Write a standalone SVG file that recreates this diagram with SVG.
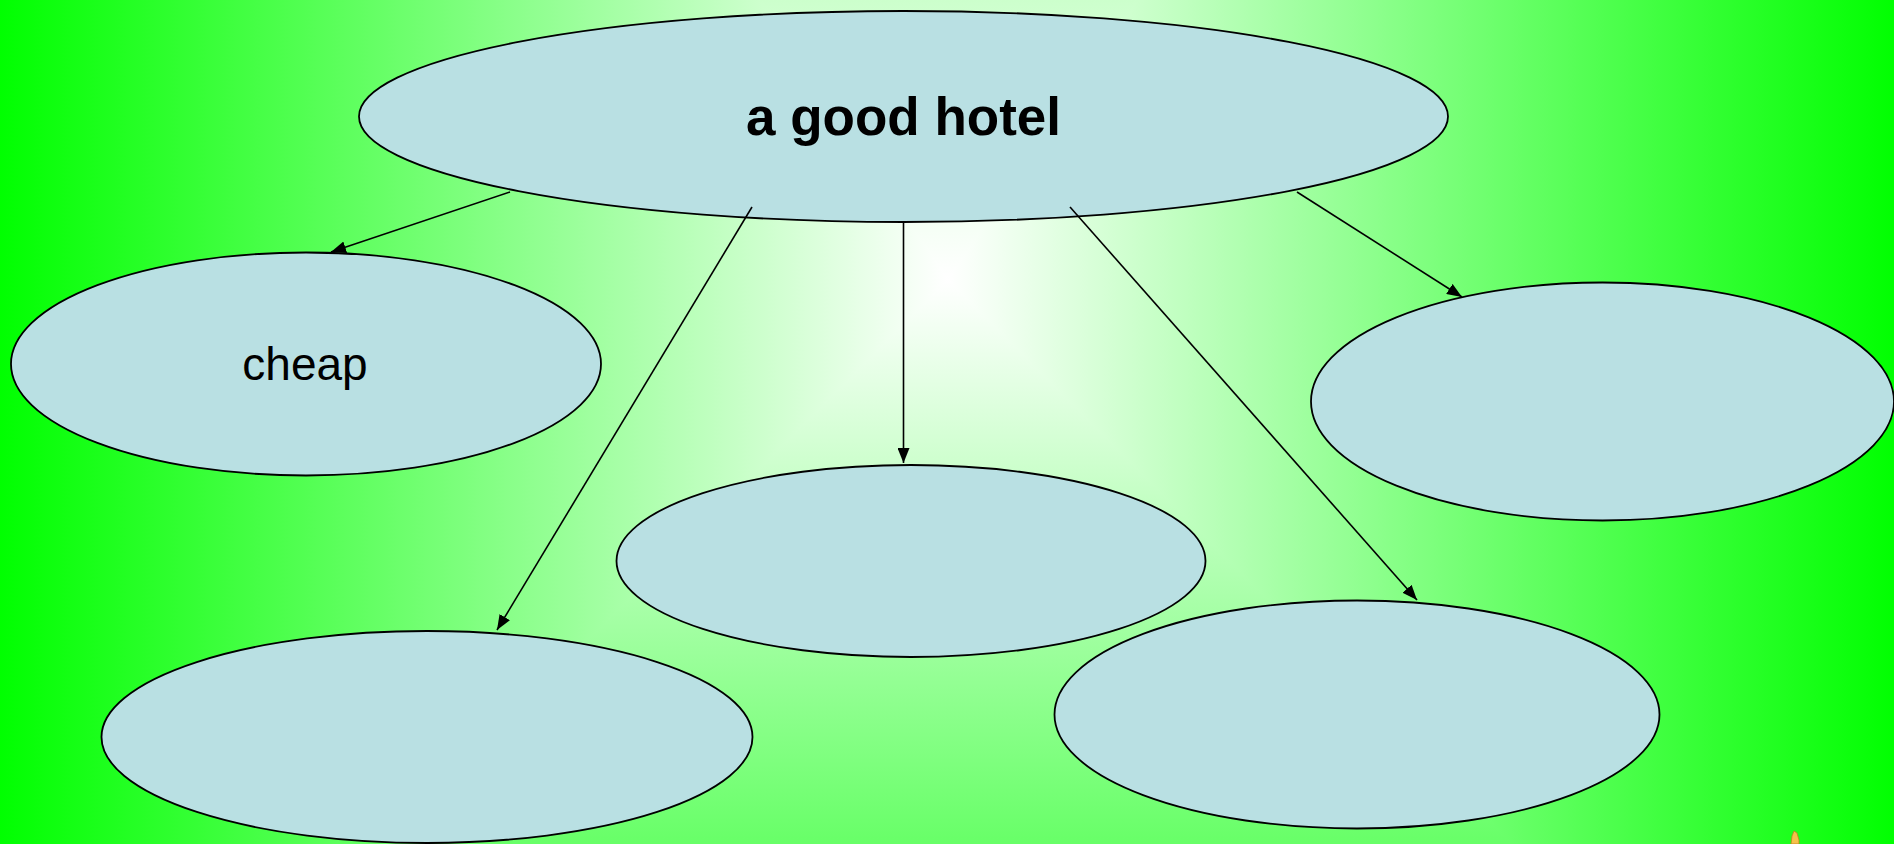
<svg xmlns="http://www.w3.org/2000/svg" width="1894" height="844" viewBox="0 0 1894 844">
<style>
.node ellipse{fill:#b9e0e3;stroke:#000;stroke-width:1.8}
.conn line{stroke:#000;stroke-width:1.6;marker-end:url(#ah)}
.bg{shape-rendering:crispEdges}
text{font-family:"Liberation Sans",Arial,sans-serif;fill:#000;text-anchor:middle}
</style>
<defs>
<marker id="ah" markerUnits="userSpaceOnUse" markerWidth="16" markerHeight="12" refX="15" refY="6" orient="auto">
<path d="M0,0 L15,6 L0,12 Z" fill="#000"/>
</marker>
<linearGradient id="gT" gradientUnits="userSpaceOnUse" x1="0" y1="280" x2="0" y2="-1120"><stop offset="0" stop-color="#ffffff"/><stop offset="1" stop-color="#00ff00"/></linearGradient>
<linearGradient id="gB" gradientUnits="userSpaceOnUse" x1="0" y1="280" x2="0" y2="1230"><stop offset="0" stop-color="#ffffff"/><stop offset="1" stop-color="#00ff00"/></linearGradient>
<linearGradient id="gL" gradientUnits="userSpaceOnUse" x1="948" y1="0" x2="-2" y2="0"><stop offset="0" stop-color="#ffffff"/><stop offset="1" stop-color="#00ff00"/></linearGradient>
<linearGradient id="gR" gradientUnits="userSpaceOnUse" x1="948" y1="0" x2="1898" y2="0"><stop offset="0" stop-color="#ffffff"/><stop offset="1" stop-color="#00ff00"/></linearGradient>
</defs>
<g id="background">
<rect width="1894" height="844" fill="#80ff80"/>
<polygon class="bg" points="948,280 758,0 1138,0" fill="url(#gT)"/>
<polygon class="bg" points="948,280 758,0 0,0 0,844 384,844" fill="url(#gL)"/>
<polygon class="bg" points="948,280 1138,0 1894,0 1894,844 1512,844" fill="url(#gR)"/>
<polygon class="bg" points="948,280 384,844 1512,844" fill="url(#gB)"/>
<path d="M1791,844 L1792,836 L1794,831 L1797,833 L1799,840 L1799,844 Z" fill="#f5c04a" stroke="#c08020" stroke-width="0.8"/>
</g>
<g id="hotel" class="node">
<ellipse cx="903.5" cy="116.5" rx="544.5" ry="105.5"/>
<text x="903.5" y="135" font-size="53" font-weight="bold">a good hotel</text>
</g>
<g id="cheap" class="node">
<ellipse cx="306" cy="364" rx="295" ry="111.5"/>
<text x="305" y="380" font-size="46">cheap</text>
</g>
<g id="center" class="node">
<ellipse cx="911" cy="561" rx="294.5" ry="96"/>
</g>
<g id="right" class="node">
<ellipse cx="1602.5" cy="401.5" rx="291.5" ry="119"/>
</g>
<g id="bottom-left" class="node">
<ellipse cx="427" cy="737" rx="325.5" ry="106"/>
</g>
<g id="bottom-right" class="node">
<ellipse cx="1357" cy="714.5" rx="302.5" ry="114"/>
</g>
<g id="connectors" class="conn">
<line x1="510" y1="192" x2="331" y2="252"/>
<line x1="752" y1="207" x2="497" y2="630"/>
<line x1="903.5" y1="222" x2="903.5" y2="463"/>
<line x1="1070" y1="207" x2="1417" y2="600"/>
<line x1="1297" y1="192" x2="1462" y2="297"/>
</g>
</svg>
